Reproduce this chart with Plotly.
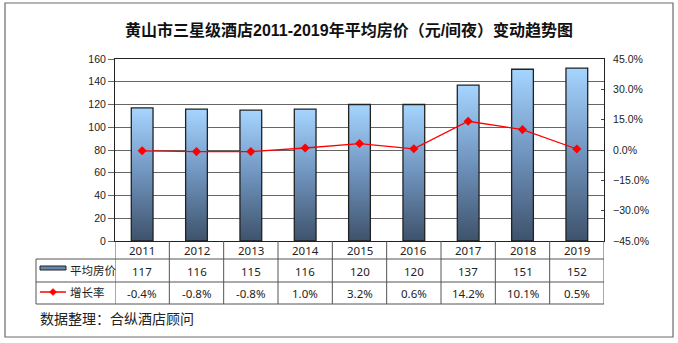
import plotly.graph_objects as go

years = ["2011", "2012", "2013", "2014", "2015", "2016", "2017", "2018", "2019"]
avg_price = [117, 116, 115, 116, 120, 120, 137, 151, 152]
growth_pct = [-0.4, -0.8, -0.8, 1.0, 3.2, 0.6, 14.2, 10.1, 0.5]
price_labels = ["117", "116", "115", "116", "120", "120", "137", "151", "152"]
growth_labels = ["-0.4%", "-0.8%", "-0.8%", "1.0%", "3.2%", "0.6%", "14.2%", "10.1%", "0.5%"]

title = "黄山市三星级酒店2011-2019年平均房价（元/间夜）变动趋势图"
series_price = "平均房价"
series_growth = "增长率"
source = "数据整理：合纵酒店顾问"

W, H = 678, 343
L, R, T, B = 115, 604, 59, 241  # plot area pixels
pw, ph = R - L, B - T

def px(x):
    return (x - L) / pw

def py(y):
    return (B - y) / ph

FONT = "'Noto Sans', 'Noto Sans CJK SC', sans-serif"
TITLE_FONT = "'Liberation Sans', 'Noto Sans CJK SC', sans-serif"
LINE = "#555555"

fig = go.Figure()

bw = 0.2
grad = [[0, "#3e526b"], [0.5, "#6f93bd"], [1, "#a5d5ff"]]
for i, v in enumerate(avg_price):
    fig.add_trace(go.Scatter(
        x=[i - bw, i - bw, i + bw, i + bw, i - bw],
        y=[0, v, v, 0, 0],
        mode="lines", fill="toself",
        fillgradient=dict(type="vertical", colorscale=grad),
        line=dict(color="#222222", width=1.3),
        name=series_price, showlegend=False, hoverinfo="skip",
    ))

fig.add_trace(go.Scatter(
    x=list(range(len(years))), y=[g / 100 for g in growth_pct],
    yaxis="y2", mode="lines+markers",
    line=dict(color="#ff0000", width=1.3),
    marker=dict(symbol="diamond", size=7, color="#ff0000"),
    name=series_growth, showlegend=False,
))

shapes = []
# outer border
shapes.append(dict(type="rect", xref="paper", yref="paper",
                   x0=px(5), x1=px(673), y0=py(337), y1=py(3),
                   line=dict(color="#6a6a6a", width=1.2), fillcolor="rgba(0,0,0,0)"))
# table lines
rows_y = [259, 282, 304]
for yy in rows_y:
    shapes.append(dict(type="line", xref="paper", yref="paper",
                       x0=px(36), x1=px(R), y0=py(yy), y1=py(yy),
                       line=dict(color=LINE, width=1)))
# vertical column lines
n = len(years)
for k in range(n + 1):
    shapes.append(dict(type="line", xref="x", yref="paper",
                       x0=k - 0.5, x1=k - 0.5, y0=py(304), y1=0,
                       line=dict(color=LINE, width=1)))
shapes.append(dict(type="line", xref="paper", yref="paper",
                   x0=px(36), x1=px(36), y0=py(304), y1=py(259),
                   line=dict(color=LINE, width=1)))
# legend keys
shapes.append(dict(type="rect", xref="paper", yref="paper",
                   x0=px(40), x1=px(66), y0=py(270), y1=py(266),
                   line=dict(color="#222222", width=1), fillcolor="#6688b0"))
shapes.append(dict(type="line", xref="paper", yref="paper",
                   x0=px(40), x1=px(66), y0=py(292), y1=py(292),
                   line=dict(color="#ff0000", width=1.5)))
cx, cy, dx, dy = px(53), py(292), 3.5 / pw, 3.5 / ph
shapes.append(dict(type="path", xref="paper", yref="paper",
                   path=f"M {cx},{cy+dy} L {cx+dx},{cy} L {cx},{cy-dy} L {cx-dx},{cy} Z",
                   line=dict(color="#ff0000", width=0.5), fillcolor="#ff0000"))

ann = []
tf = dict(family=FONT, size=11.5, color="#222222")
for i in range(n):
    ann.append(dict(x=i, y=py(250.5), xref="x", yref="paper", text=years[i],
                    showarrow=False, font=tf, xanchor="center", yanchor="middle"))
    ann.append(dict(x=i, y=py(271), xref="x", yref="paper", text=price_labels[i],
                    showarrow=False, font=tf, xanchor="center", yanchor="middle"))
    ann.append(dict(x=i, y=py(293), xref="x", yref="paper", text=growth_labels[i],
                    showarrow=False, font=tf, xanchor="center", yanchor="middle"))
ann.append(dict(x=px(68), y=py(270), xref="paper", yref="paper", text=series_price,
                showarrow=False, font=tf, xanchor="left", yanchor="middle"))
ann.append(dict(x=px(68), y=py(292), xref="paper", yref="paper", text=series_growth,
                showarrow=False, font=tf, xanchor="left", yanchor="middle"))
ann.append(dict(x=px(38), y=py(318), xref="paper", yref="paper", text=source,
                showarrow=False, font=dict(family=FONT, size=14, color="#222222"),
                xanchor="left", yanchor="middle"))
ann.append(dict(x=px(349), y=py(30), xref="paper", yref="paper", text=title,
                showarrow=False,
                font=dict(family=TITLE_FONT, size=16, color="#111111", weight="bold"),
                xanchor="center", yanchor="middle"))

fig.update_layout(
    width=W, height=H,
    margin=dict(l=L, r=W - R, t=T, b=H - B, pad=0),
    paper_bgcolor="white", plot_bgcolor="white",
    showlegend=False,
    xaxis=dict(range=[-0.5, n - 0.5], showticklabels=False, showgrid=False, zeroline=False,
               showline=True, linecolor="#222222", linewidth=1, mirror=True, ticks="",
               fixedrange=True),
    yaxis=dict(range=[0, 160], dtick=20, showgrid=True, gridcolor="#666666", gridwidth=1,
               zeroline=False, showline=True, linecolor="#222222", linewidth=1,
               ticks="outside", ticklen=6, tickcolor="#666666",
               tickfont=dict(family="'Liberation Sans', Arial, sans-serif", size=10.5, color="#222222")),
    yaxis2=dict(range=[-0.45, 0.45], dtick=0.15, tick0=0, tickformat=".1%", overlaying="y",
                side="right", showgrid=False, zeroline=False, showline=True,
                linecolor="#222222", linewidth=1, ticks="inside", ticklen=3, tickcolor="#444444",
                ticklabelstandoff=6,
                tickfont=dict(family="'Liberation Sans', Arial, sans-serif", size=10.5, color="#222222")),
    shapes=shapes,
    annotations=ann,
)

fig.write_html("out.html")
